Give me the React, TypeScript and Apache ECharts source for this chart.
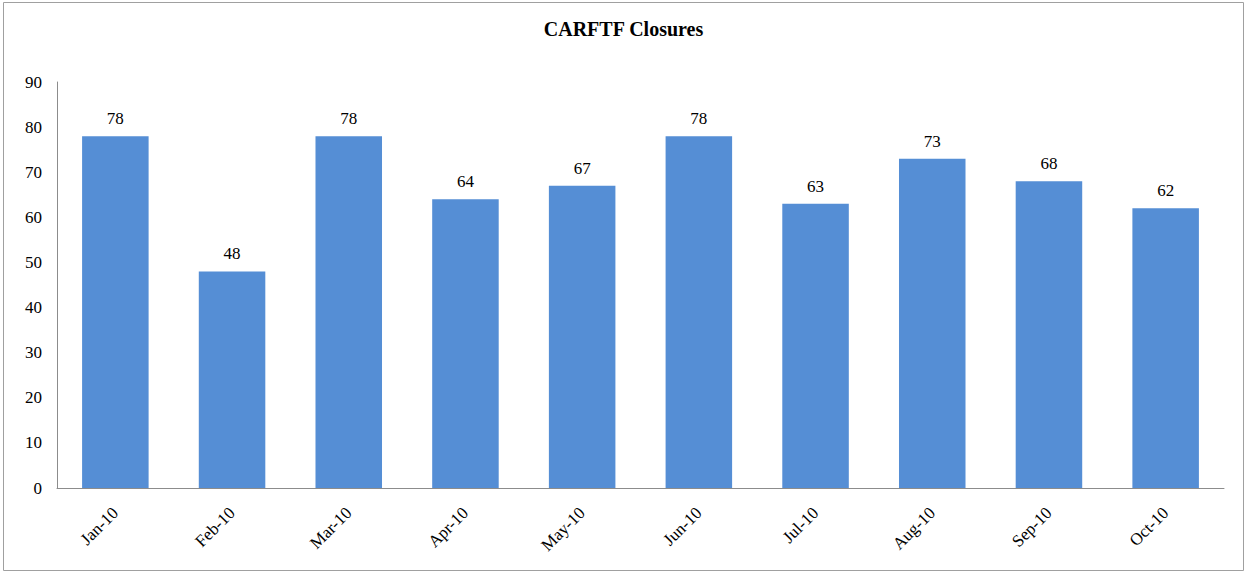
import React, { useEffect, useRef } from "react";
import * as echarts from "echarts";

const categories = ["Jan-10", "Feb-10", "Mar-10", "Apr-10", "May-10", "Jun-10", "Jul-10", "Aug-10", "Sep-10", "Oct-10"];
const closures = [78, 48, 78, 64, 67, 78, 63, 73, 68, 62];
const yTicks = { min: 0, max: 90, interval: 10 };

export default function App() {
  const ref = useRef<HTMLDivElement>(null);
  useEffect(() => {
    document.body.style.margin = "0";
    const chart = echarts.init(ref.current!, null, { renderer: "svg" });
    const font = "'Liberation Serif', 'Times New Roman', serif";
    chart.setOption({
      animation: false,
      backgroundColor: "#ffffff",
      title: {
        text: "CARFTF Closures",
        left: "center",
        top: 14,
        textStyle: { fontFamily: font, fontWeight: "bold", fontSize: 20, color: "#000" },
      },
      graphic: [
        {
          type: "rect",
          shape: { x: 3.5, y: 2.5, width: 1240, height: 568 },
          style: { fill: "none", stroke: "#a0a0a0", lineWidth: 1 },
          silent: true,
        },
      ],
      grid: { left: 57, right: 23, top: 82, bottom: 85 },
      xAxis: {
        type: "category",
        data: categories,
        axisLine: { lineStyle: { color: "#8c8c8c", width: 1 } },
        axisTick: { show: false },
        axisLabel: {
          rotate: 45,
          fontFamily: font,
          fontSize: 17,
          color: "#000",
          margin: 22,
        },
      },
      yAxis: {
        type: "value",
        min: yTicks.min,
        max: yTicks.max,
        interval: yTicks.interval,
        axisLine: { show: true, lineStyle: { color: "#8c8c8c", width: 1 } },
        axisTick: { show: false },
        splitLine: { show: false },
        axisLabel: { fontFamily: font, fontSize: 17, color: "#000", margin: 15 },
      },
      series: [
        {
          type: "bar",
          data: closures,
          barCategoryGap: "43%",
          itemStyle: { color: "#558ED5" },
          label: {
            show: true,
            position: "top",
            distance: 9,
            fontFamily: font,
            fontSize: 17,
            color: "#000",
          },
        },
      ],
    });
    return () => chart.dispose();
  }, []);
  return <div ref={ref} style={{ width: 1247, height: 573 }} />;
}
